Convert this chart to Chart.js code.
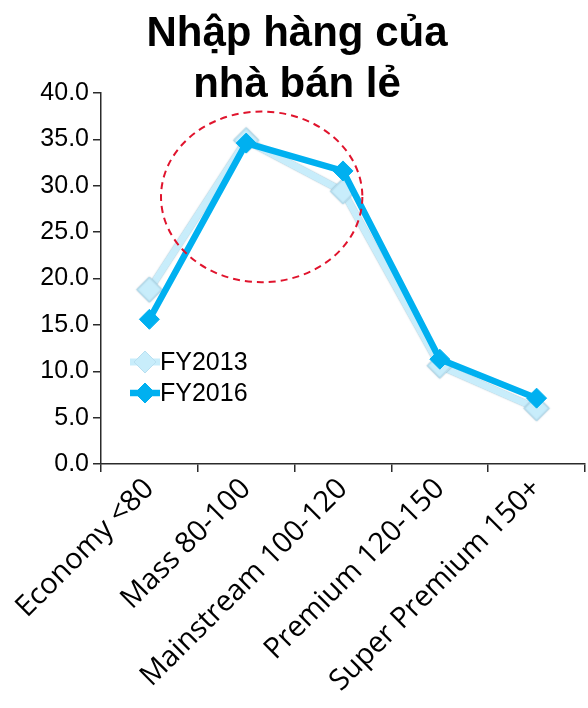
<!DOCTYPE html>
<html>
<head>
<meta charset="utf-8">
<script src="https://cdn.jsdelivr.net/npm/chart.js@4"></script>
<style>
  html, body { margin: 0; padding: 0; background: #ffffff; }
  canvas { display: block; }
</style>
</head>
<body>
<canvas id="chart" width="588" height="708"></canvas>
<script>
// Price segments (x axis)
const categories = ['Economy <80', 'Mass 80-100', 'Mainstream 100-120', 'Premium 120-150', 'Super Premium 150+'];
// Share of retailer purchasing per segment
const fy2013 = [18.8, 34.9, 29.4, 10.6, 6.0];
const fy2016 = [15.6, 34.6, 31.6, 11.3, 7.1];
const seriesNames = ['FY2013', 'FY2016'];
// Value axis
const yMin = 0;
const yMax = 40;
const yStep = 5;
// Heading
const titleLines = ['Nhập hàng của', 'nhà bán lẻ'];
// Highlighted region (data units: category index, value)
const highlight = { cx: 1.16, cy: 28.8, rx: 1.04, ry: 9.2 };

const COLOR_2013 = '#c8edfb';
const EDGE_2013 = '#b8dff0';
const COLOR_2016 = '#00b0f0';
const AXIS = '#2b2b2b';

// Heading drawn over the top of the canvas
const headingPlugin = {
  id: 'heading',
  afterDraw(chart) {
    const ctx = chart.ctx;
    ctx.save();
    ctx.fillStyle = '#000';
    ctx.font = 'bold 42px "Liberation Sans", Arial, sans-serif';
    ctx.textAlign = 'center';
    ctx.textBaseline = 'alphabetic';
    const cx = chart.width / 2 + 3;
    ctx.fillText(titleLines[0], cx, 46);
    ctx.fillText(titleLines[1], cx, 97);
    ctx.restore();
  }
};

// Thin soft outline around the pale FY2013 series
const outlinePlugin = {
  id: 'paleOutline',
  beforeDatasetDraw(chart, args) {
    if (args.index !== 0) return;
    const ctx = chart.ctx;
    ctx.save();
    ctx.shadowColor = 'rgba(120, 160, 180, 0.75)';
    ctx.shadowBlur = 1.5;
  },
  afterDatasetDraw(chart, args) {
    if (args.index !== 0) return;
    chart.ctx.restore();
  }
};

// Dashed red ellipse around the mid-range segments
const ellipsePlugin = {
  id: 'highlightEllipse',
  afterDatasetsDraw(chart) {
    const x = chart.scales.x, y = chart.scales.y;
    const cx = x.getPixelForValue(highlight.cx);
    const cy = y.getPixelForValue(highlight.cy);
    const rx = Math.abs(x.getPixelForValue(highlight.cx + highlight.rx) - cx);
    const ry = Math.abs(y.getPixelForValue(highlight.cy + highlight.ry) - cy);
    const ctx = chart.ctx;
    ctx.save();
    ctx.strokeStyle = '#e0142d';
    ctx.lineWidth = 2;
    ctx.setLineDash([7, 5]);
    ctx.beginPath();
    ctx.ellipse(cx, cy, rx, ry, 0, 0, Math.PI * 2);
    ctx.stroke();
    ctx.restore();
  }
};

// Legend inside the plot: short line with a diamond marker, then the label
const legendPlugin = {
  id: 'insideLegend',
  afterDraw(chart) {
    const ctx = chart.ctx;
    const rows = [362, 393];
    const sizes = [11, 10];
    ctx.save();
    chart.data.datasets.forEach((ds, i) => {
      const yy = rows[i];
      const r = sizes[i];
      ctx.strokeStyle = ds.borderColor;
      ctx.lineWidth = ds.borderWidth;
      ctx.beginPath();
      ctx.moveTo(130, yy);
      ctx.lineTo(160, yy);
      ctx.stroke();
      ctx.fillStyle = ds.pointBackgroundColor;
      ctx.strokeStyle = ds.pointBorderColor;
      ctx.lineWidth = 1;
      ctx.beginPath();
      ctx.moveTo(145, yy - r); ctx.lineTo(145 + r, yy); ctx.lineTo(145, yy + r); ctx.lineTo(145 - r, yy); ctx.closePath();
      ctx.fill();
      ctx.stroke();
      ctx.fillStyle = '#000';
      ctx.font = '25px "Liberation Sans", Arial, sans-serif';
      ctx.textAlign = 'left';
      ctx.textBaseline = 'middle';
      ctx.fillText(ds.label, 160, yy + 1);
    });
    ctx.restore();
  }
};

new Chart(document.getElementById('chart'), {
  type: 'line',
  data: {
    labels: categories,
    datasets: [
      {
        label: seriesNames[0],
        data: fy2013,
        borderColor: COLOR_2013,
        borderWidth: 7,
        pointStyle: 'rectRot',
        pointRadius: 12.5,
        pointBackgroundColor: COLOR_2013,
        pointBorderColor: EDGE_2013,
        pointBorderWidth: 1,
        tension: 0,
        order: 2
      },
      {
        label: seriesNames[1],
        data: fy2016,
        borderColor: COLOR_2016,
        borderWidth: 6.5,
        pointStyle: 'rectRot',
        pointRadius: 10,
        pointBackgroundColor: COLOR_2016,
        pointBorderColor: COLOR_2016,
        pointBorderWidth: 1,
        tension: 0,
        order: 1
      }
    ]
  },
  options: {
    responsive: false,
    devicePixelRatio: 1,
    animation: false,
    layout: { autoPadding: false, padding: { top: 93, right: 3, left: 0, bottom: 0 } },
    plugins: {
      legend: { display: false },
      title: { display: false },
      tooltip: { enabled: false }
    },
    scales: {
      x: {
        type: 'category',
        offset: true,
        grid: {
          offset: true,
          drawOnChartArea: false,
          drawTicks: true,
          tickLength: 8,
          color: AXIS,
          lineWidth: 1.5
        },
        border: { display: true, color: AXIS, width: 1.5 },
        ticks: {
          color: '#000',
          font: { family: '"Open Sans", "Noto Sans", sans-serif', size: 29 },
          minRotation: 45,
          maxRotation: 45,
          autoSkip: false,
          padding: 0
        },
        afterFit(scale) {
          scale.height = 244;
          scale.paddingLeft = 0;
          scale.paddingRight = 0;
        }
      },
      y: {
        min: yMin,
        max: yMax,
        ticks: {
          stepSize: yStep,
          color: '#000',
          font: { family: '"Liberation Sans", Arial, sans-serif', size: 25 },
          padding: 4,
          callback: (v) => Number(v).toFixed(1)
        },
        grid: {
          drawOnChartArea: false,
          drawTicks: true,
          tickLength: 8,
          color: AXIS,
          lineWidth: 1.5
        },
        border: { display: true, color: AXIS, width: 1.5 },
        afterFit(scale) { scale.width = 101; }
      }
    }
  },
  plugins: [outlinePlugin, ellipsePlugin, headingPlugin, legendPlugin]
});
</script>
</body>
</html>
